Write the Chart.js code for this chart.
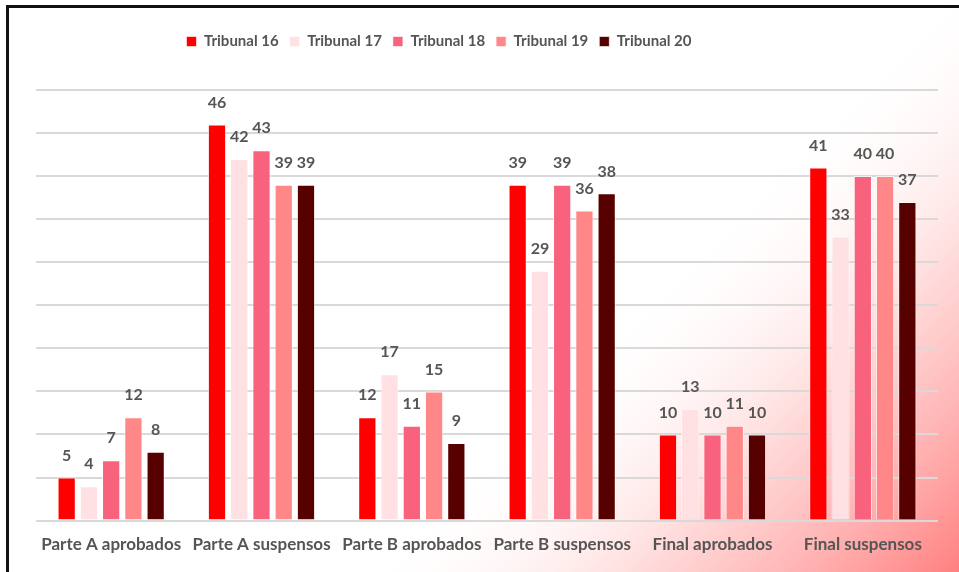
<!DOCTYPE html>
<html>
<head>
<meta charset="utf-8">
<script src="https://cdn.jsdelivr.net/npm/chart.js@4.4.1/dist/chart.umd.min.js"></script>
<style>
  html, body { margin: 0; padding: 0; background: #fff; overflow: hidden; }
  #wrap { position: relative; width: 959px; height: 572px; }
  #frame {
    position: absolute; left: 6px; top: 5px; width: 1000px; height: 700px;
    border: 3px solid #111; box-sizing: border-box; pointer-events: none;
  }
</style>
</head>
<body>
<div id="wrap">
  <canvas id="chart" width="959" height="572"></canvas>
  <div id="frame"></div>
</div>
<script>
// Categories and series
const categories = ['Parte A aprobados', 'Parte A suspensos', 'Parte B aprobados', 'Parte B suspensos', 'Final aprobados', 'Final suspensos'];
const seriesNames = ['Tribunal 16', 'Tribunal 17', 'Tribunal 18', 'Tribunal 19', 'Tribunal 20'];
const tribunal16 = [5, 46, 12, 39, 10, 41];
const tribunal17 = [4, 42, 17, 29, 13, 33];
const tribunal18 = [7, 43, 11, 39, 10, 40];
const tribunal19 = [12, 39, 15, 36, 11, 40];
const tribunal20 = [8, 39, 9, 38, 10, 37];
const seriesColors = ['#FF0000', '#FFE1E3', '#F8627C', '#FF8787', '#560000'];

const textGray = '#555555';
const fontFamily = 'Lato, "Open Sans", sans-serif';

// Pink corner wash behind the chart
const backgroundPlugin = {
  id: 'cornerWash',
  beforeDraw(chart) {
    const c = chart.ctx;
    const w = chart.width, h = chart.height;
    c.save();
    c.fillStyle = '#fff';
    c.fillRect(0, 0, w, h);
    const g = c.createLinearGradient(w, h, w - 300, h - 300);
    g.addColorStop(0, 'rgba(255,128,128,1)');
    g.addColorStop(0.5, 'rgba(255,200,200,0.75)');
    g.addColorStop(1, 'rgba(255,255,255,0)');
    c.fillStyle = g;
    c.fillRect(0, 0, w, h);
    c.restore();
  }
};

// Legend sits a bit left of centre and leaves a gap above the plot
const legendTweak = {
  id: 'legendTweak',
  beforeLayout(chart) {
    const lg = chart.legend;
    if (lg && !lg._patched) {
      const fit = lg.fit;
      lg.fit = function() {
        fit.call(this);
        this.height = 67;
      };
      lg._patched = true;
    }
  },
  afterLayout(chart) {
    const lg = chart.legend;
    if (lg) {
      lg.left -= 48;
      lg.right -= 48;
    }
  }
};

// Value labels above each bar
const valueLabels = {
  id: 'valueLabels',
  afterDatasetsDraw(chart) {
    const c = chart.ctx;
    c.save();
    c.font = 'bold 16px ' + fontFamily;
    c.fillStyle = textGray;
    c.textAlign = 'center';
    c.textBaseline = 'middle';
    chart.data.datasets.forEach((ds, i) => {
      chart.getDatasetMeta(i).data.forEach((bar, j) => {
        c.fillText(ds.data[j], bar.x, bar.y - 22);
      });
    });
    c.restore();
  }
};

const allSeries = [tribunal16, tribunal17, tribunal18, tribunal19, tribunal20];

new Chart(document.getElementById('chart'), {
  type: 'bar',
  data: {
    labels: categories,
    datasets: allSeries.map((vals, i) => ({
      label: seriesNames[i],
      data: vals,
      backgroundColor: seriesColors[i],
      borderColor: 'rgba(255,255,255,0.6)',
      borderWidth: 1,
      categoryPercentage: 0.74,
      barPercentage: 0.82
    }))
  },
  options: {
    responsive: false,
    animation: false,
    layout: { padding: { left: 36, right: 21, top: 23, bottom: 3 } },
    plugins: {
      legend: {
        position: 'top',
        labels: {
          boxWidth: 10,
          boxHeight: 10,
          padding: 11,
          color: textGray,
          font: { family: fontFamily, size: 15, weight: 'bold' }
        }
      },
      tooltip: { enabled: false }
    },
    scales: {
      x: {
        grid: { display: false, drawTicks: false },
        border: { display: false },
        ticks: {
          color: textGray,
          padding: 14,
          font: { family: fontFamily, size: 17, weight: 'bold' }
        }
      },
      y: {
        min: 0,
        max: 50,
        border: { display: false },
        grid: { color: '#D9D9D9', lineWidth: 2, drawTicks: false },
        ticks: { display: false, stepSize: 5 }
      }
    }
  },
  plugins: [backgroundPlugin, legendTweak, valueLabels]
});
</script>
</body>
</html>
